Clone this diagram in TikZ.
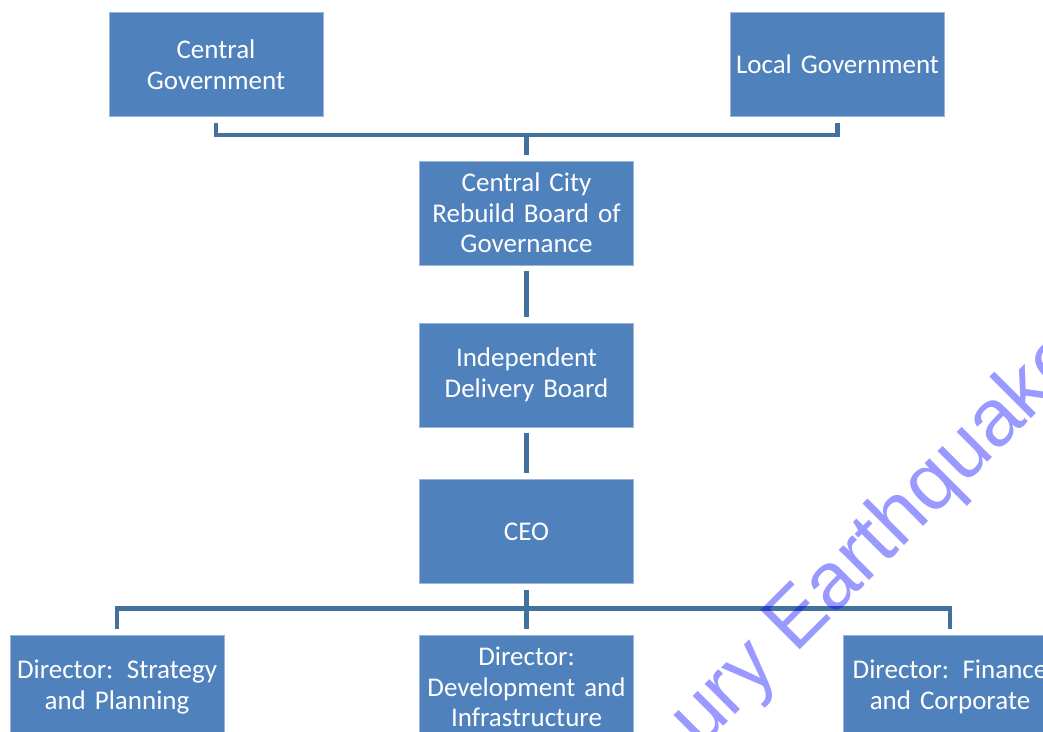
\documentclass[tikz,border=0pt]{standalone}
\usepackage{fontspec}
\setmainfont{Carlito}
\newfontfamily\wmfont{Liberation Sans}
\definecolor{boxblue}{HTML}{4F81BD}
\definecolor{boxedge}{HTML}{9DB6D8}
\definecolor{linkblue}{HTML}{41719C}
\begin{document}
\begin{tikzpicture}[x=1pt,y=-1pt,
  orgbox/.style={rectangle, fill=boxblue, draw=boxedge, line width=0.8pt,
    minimum width=214pt, minimum height=104pt, inner sep=0pt,
    text width=212pt, align=center, text=white,
    font=\fontsize{27}{30.5}\selectfont},
  conn/.style={draw=linkblue, line width=4.5pt},
  gap/.style={shorten <=6pt, shorten >=6pt},
  watermark/.style={text=blue, text opacity=0.4, font=\wmfont\fontsize{81}{81}\selectfont,
    rotate=45, anchor=base west, inner sep=0pt}
]
\useasboundingbox (0,0) rectangle (1043,731);
% boxes
\node[orgbox] (cg) at (216,64.5) {Central\\Government};
\node[orgbox] (lg) at (837.5,64.5) {Local Government};
\node[orgbox] (ccrb) at (526.5,213) {Central City\\Rebuild Board of\\Governance};
\node[orgbox] (idb) at (526.5,375) {Independent\\Delivery Board};
\node[orgbox] (ceo) at (526.5,531.5) {CEO};
\node[orgbox] (ds) at (117,687) {Director: Strategy\\and Planning};
\node[orgbox] (dd) at (526.5,687) {Director:\\Development and\\Infrastructure};
\node[orgbox] (df) at (950,687) {Director: Finance\\and Corporate};
% connectors
\coordinate (tb) at (526.5,134);
\draw[conn,gap] (cg.south) -- ++(0,18) -| (lg.south);
\draw[conn,shorten >=6pt] (tb) -- (ccrb.north);
\draw[conn,gap] (ccrb.south) -- (idb.north);
\draw[conn,gap] (idb.south) -- (ceo.north);
\draw[conn,gap] (ceo.south) -- (dd.north);
\draw[conn,gap] (ds.north) -- ++(0,-26) -| (df.north);
% watermark
\node[watermark] (wm) at (700,750) {ury Earthquake};
\end{tikzpicture}
\end{document}
